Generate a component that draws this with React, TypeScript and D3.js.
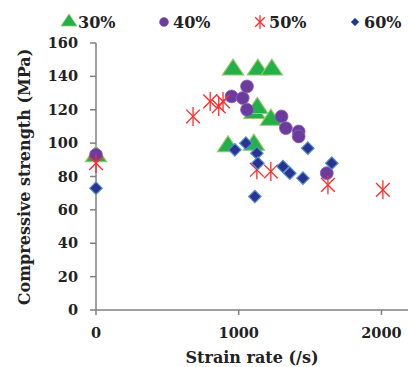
import React from 'react';
import * as d3 from 'd3';

// Strain rate (/s), compressive strength (MPa) per series
const rate30 = [0, 925, 960, 1106, 1110, 1130, 1134, 1225, 1232];
const str30 = [92, 98, 144, 99, 118, 121, 144, 114, 144];

const rate40 = [0, 950, 1028, 1058, 1058, 1300, 1330, 1420, 1420, 1617];
const str40 = [93, 128, 127, 134, 120, 116, 109, 107, 104, 82];

const rate50 = [0, 680, 800, 860, 890, 1127, 1225, 1625, 2010];
const str50 = [88, 116, 125, 122, 125, 84, 83, 75, 72];

const rate60 = [0, 973, 1050, 1113, 1127, 1134, 1310, 1358, 1450, 1484, 1652];
const str60 = [73, 96, 100, 68, 94, 88, 86, 82, 79, 97, 88];

const yTicks = [0, 20, 40, 60, 80, 100, 120, 140, 160];
const xTicks = [0, 1000, 2000];
const legendLabels = ['30%', '40%', '50%', '60%'];

const width = 408;
const height = 367;
const font = '"DejaVu Serif", Georgia, serif';

const x = d3.scaleLinear().domain([0, 2200]).range([96, 410]);
const y = d3.scaleLinear().domain([0, 160]).range([310, 43]);

const triPath = d3.symbol().type(d3.symbolTriangle).size(150)()!;
const circlePath = d3.symbol().type(d3.symbolCircle).size(130)()!;
const diamondPath = d3.symbol().type(d3.symbolSquare).size(78)()!;

const Triangle = ({ cx, cy, s = 1 }: { cx: number; cy: number; s?: number }) => (
  <path d={triPath} transform={`translate(${cx},${cy}) scale(${1.15 * s},${s})`} fill="#22b04b" stroke="#9bc86a" strokeWidth={1} />
);
const Circle = ({ cx, cy, s = 1 }: { cx: number; cy: number; s?: number }) => (
  <path d={circlePath} transform={`translate(${cx},${cy}) scale(${s})`} fill="#6b3c9e" stroke="#8a63b8" strokeWidth={0.8} />
);
const Star = ({ cx, cy, s = 1 }: { cx: number; cy: number; s?: number }) => {
  const r = 9.5 * s;
  const a = r * 0.72;
  return (
    <g transform={`translate(${cx},${cy})`} stroke="#ff2a2a" strokeWidth={1.3}>
      <line x1={-a} y1={-a} x2={a} y2={a} />
      <line x1={-a} y1={a} x2={a} y2={-a} />
      <line x1={0} y1={-r} x2={0} y2={r} />
    </g>
  );
};
const Diamond = ({ cx, cy, s = 1 }: { cx: number; cy: number; s?: number }) => (
  <path d={diamondPath} transform={`translate(${cx},${cy}) rotate(45) scale(${s})`} fill="#2b3390" stroke="#4f8fd0" strokeWidth={1.2} />
);

export default function App() {
  return (
    <svg width={width} height={height} style={{ position: 'absolute', left: 0, top: 0, background: '#fff' }} fontFamily={font}>
      {/* legend */}
      {legendLabels.map((lab, i) => {
        const lx = [69, 164, 260, 355][i];
        const Marker = [Triangle, Circle, Star, Diamond][i];
        return (
          <g key={lab}>
            <Marker cx={lx} cy={22} s={i === 0 ? 0.75 : i === 3 ? 0.65 : 0.7} />
            <text x={lx + 9} y={28} fontSize={16} fontWeight="bold" fill="#222">{lab}</text>
          </g>
        );
      })}

      {/* axes */}
      <line x1={x(0)} x2={x(0)} y1={y(160)} y2={y(0)} stroke="#808080" strokeWidth={1.5} />
      <line x1={x(0)} x2={width} y1={y(0)} y2={y(0)} stroke="#808080" strokeWidth={1.5} />
      {yTicks.map(t => (
        <g key={t}>
          <line x1={x(0) - 6} x2={x(0)} y1={y(t)} y2={y(t)} stroke="#808080" strokeWidth={1.5} />
          <text x={78} y={y(t)} dy="0.35em" textAnchor="end" fontSize={14.5} fontWeight="bold" fill="#222">{t}</text>
        </g>
      ))}
      {xTicks.map(t => (
        <g key={t}>
          <line x1={x(t)} x2={x(t)} y1={y(0)} y2={y(0) + 5} stroke="#808080" strokeWidth={1.5} />
          <text x={x(t)} y={338} textAnchor="middle" fontSize={14.5} fontWeight="bold" fill="#222">{t}</text>
        </g>
      ))}
      <text x={252} y={363} textAnchor="middle" fontSize={16} fontWeight="bold" fill="#222">Strain rate (/s)</text>
      <text transform={`translate(30,${(38 + 316) / 2}) rotate(-90)`} textAnchor="middle" fontSize={16} fontWeight="bold" fill="#222">Compressive strength (MPa)</text>

      {/* data */}
      {rate30.map((r, i) => <Triangle key={`a${i}`} cx={x(r)} cy={y(str30[i])} />)}
      {rate40.map((r, i) => <Circle key={`b${i}`} cx={x(r)} cy={y(str40[i])} />)}
      {rate50.map((r, i) => <Star key={`c${i}`} cx={x(r)} cy={y(str50[i])} />)}
      {rate60.map((r, i) => <Diamond key={`d${i}`} cx={x(r)} cy={y(str60[i])} />)}
    </svg>
  );
}
